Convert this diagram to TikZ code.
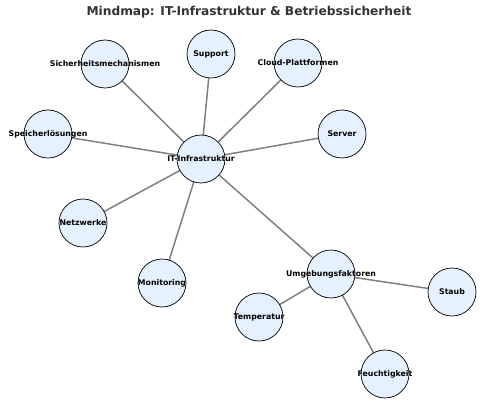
\documentclass[tikz,border=0pt]{standalone}
\usepackage{fontspec}
\setmainfont{DejaVu Sans}
\usepackage{tikz}
\usetikzlibrary{backgrounds}

\definecolor{knotfill}{RGB}{230,241,255}
\definecolor{titelgrau}{RGB}{51,51,51}

\tikzset{
  thema/.style={circle, draw=black, line width=0.7pt, fill=knotfill,
    minimum size=48pt, inner sep=0pt},
  schrift/.style={font=\fontsize{7.8}{8}\selectfont\bfseries},
  kante/.style={draw=gray, line width=1.5pt}
}

\begin{document}
\begin{tikzpicture}[x=1pt,y=-1pt]
    \useasboundingbox (0,0) rectangle (500,414);

    % Titel
    \node[font=\fontsize{12.2}{13}\selectfont\bfseries, text=titelgrau] (titel) at (249,12)
        {Mindmap: IT-Infrastruktur \& Betriebssicherheit};

    % Zentrum
    \node[thema, label={[schrift]center:IT-Infrastruktur}] (it) at (201,159) {};

    % Äste
    \node[thema, label={[schrift]center:Sicherheitsmechanismen}] (sich) at (105,64) {};
    \node[thema, label={[schrift]center:Support}] (supp) at (211,54) {};
    \node[thema, label={[schrift]center:Cloud-Plattformen}] (cloud) at (298,63) {};
    \node[thema, label={[schrift]center:Speicherlösungen}] (speich) at (48,134) {};
    \node[thema, label={[schrift]center:Server}] (serv) at (342,134) {};
    \node[thema, label={[schrift]center:Netzwerke}] (netz) at (83,223) {};
    \node[thema, label={[schrift]center:Monitoring}] (moni) at (162,283) {};
    \node[thema, label={[schrift]center:Umgebungsfaktoren}] (umg) at (331,274) {};

    % Umgebung
    \node[thema, label={[schrift]center:Staub}] (staub) at (452,292) {};
    \node[thema, label={[schrift]center:Temperatur}] (temp) at (259,317) {};
    \node[thema, label={[schrift]center:Feuchtigkeit}] (feucht) at (385,374) {};

    \begin{pgfonlayer}{background}
        \foreach \ziel in {sich,supp,cloud,speich,serv,netz,moni,umg}
            \draw[kante] (it.center) -- (\ziel.center);
        \foreach \ziel in {staub,temp,feucht}
            \draw[kante] (umg.center) -- (\ziel.center);
    \end{pgfonlayer}
\end{tikzpicture}
\end{document}
